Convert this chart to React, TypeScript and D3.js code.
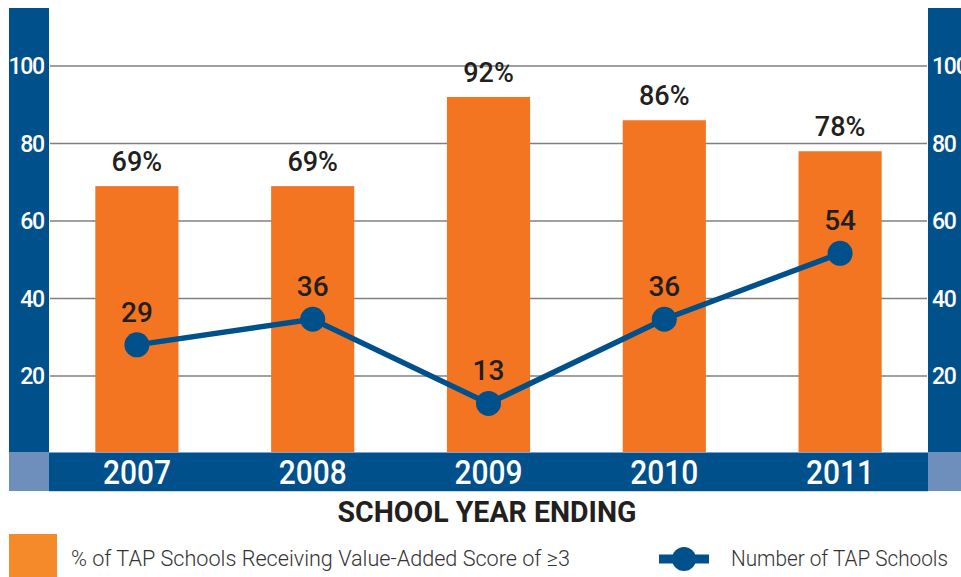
import React from "react";
import * as d3 from "d3";

const years = ["2007", "2008", "2009", "2010", "2011"];
const pctValues = [69, 69, 92, 86, 78];
const schoolCounts = [29, 36, 13, 36, 54];
const tickValues = [20, 40, 60, 80, 100];

const W = 961;
const H = 577;
const BLUE = "#00508C";
const LIGHT = "#6E8FBC";
const ORANGE = "#F47521";
const DARK = "#231F20";

export default function App() {
  const plotLeft = 49;
  const plotRight = 928;
  const bandTop = 8;
  const baseY = 452;
  const bandBottom = 491;

  const x = d3
    .scaleBand<string>()
    .domain(years)
    .range([plotLeft, plotRight])
    .paddingInner(0.527)
    .paddingOuter(0.2635);
  const y = d3.scaleLinear().domain([0, 100]).range([453.5, 66]);
  const yLine = d3.scaleLinear().domain([0, 100]).range([451, 85]);

  const cx = (yr: string) => (x(yr) as number) + x.bandwidth() / 2;

  const lineGen = d3
    .line<number>()
    .x((_, i) => cx(years[i]))
    .y((d) => yLine(d));

  const font = "Roboto, 'DejaVu Sans', sans-serif";

  return (
    <svg
      width={W}
      height={H}
      style={{ position: "absolute", left: 0, top: 0, background: "#fff" }}
      fontFamily={font}
    >
      {/* gridlines */}
      {tickValues.map((t) => (
        <line
          key={"g" + t}
          x1={plotLeft + 1}
          x2={plotRight - 1}
          y1={y(t)}
          y2={y(t)}
          stroke="#808080"
          strokeWidth={1.5}
        />
      ))}
      {/* bars */}
      {years.map((yr, i) => (
        <rect
          key={"b" + yr}
          x={x(yr)}
          y={y(pctValues[i])}
          width={x.bandwidth()}
          height={baseY - y(pctValues[i])}
          fill={ORANGE}
        />
      ))}
      {/* bar labels */}
      {years.map((yr, i) => (
        <text
          key={"bl" + yr}
          x={cx(yr)}
          y={y(pctValues[i]) - 15}
          textAnchor="middle"
          fontSize={27}
          fontWeight={500}
          fill={DARK}
        >
          {pctValues[i]}%
        </text>
      ))}
      {/* side bands */}
      <rect x={9} y={bandTop} width={plotLeft - 9} height={baseY - bandTop} fill={BLUE} />
      <rect x={plotRight} y={bandTop} width={W - plotRight} height={baseY - bandTop} fill={BLUE} />
      {/* bottom band */}
      <rect x={plotLeft} y={baseY} width={plotRight - plotLeft} height={bandBottom - baseY} fill={BLUE} />
      <rect x={9} y={baseY} width={plotLeft - 9} height={bandBottom - baseY} fill={LIGHT} />
      <rect x={plotRight} y={baseY} width={W - plotRight} height={bandBottom - baseY} fill={LIGHT} />
      <line x1={plotLeft} x2={plotRight} y1={baseY + 0.5} y2={baseY + 0.5} stroke="#7FA3CC" strokeWidth={1} />
      <line x1={plotLeft} x2={plotRight} y1={bandBottom + 0.5} y2={bandBottom + 0.5} stroke="#C9D8EA" strokeWidth={1} />
      {/* tick labels */}
      {tickValues.map((t) => (
        <text
          key={"tl" + t}
          x={44}
          y={y(t)}
          dy="0.36em"
          textAnchor="end"
          fontSize={23}
          fontWeight={500}
          letterSpacing={-1.2}
          fill="#fff"
        >
          {t}
        </text>
      ))}
      {tickValues.map((t) => (
        <text
          key={"tr" + t}
          x={932}
          y={y(t)}
          dy="0.36em"
          textAnchor="start"
          fontSize={23}
          fontWeight={500}
          letterSpacing={-1.2}
          fill="#fff"
        >
          {t}
        </text>
      ))}
      {/* year labels */}
      {years.map((yr) => (
        <text
          key={"y" + yr}
          x={cx(yr)}
          y={484}
          textAnchor="middle"
          fontSize={34}
          fontWeight={500}
          fill="#fff"
          textLength={68}
          lengthAdjust="spacingAndGlyphs"
        >
          {yr}
        </text>
      ))}
      {/* line */}
      <path d={lineGen(schoolCounts) || ""} fill="none" stroke={BLUE} strokeWidth={5.5} />
      {schoolCounts.map((v, i) => (
        <circle key={"c" + i} cx={cx(years[i])} cy={yLine(v)} r={12.5} fill={BLUE} />
      ))}
      {schoolCounts.map((v, i) => (
        <text
          key={"cl" + i}
          x={cx(years[i])}
          y={yLine(v) - 23}
          textAnchor="middle"
          fontSize={28}
          fontWeight={500}
          fill={DARK}
        >
          {v}
        </text>
      ))}
      {/* axis title */}
      <text
        x={487}
        y={522}
        textAnchor="middle"
        fontSize={30}
        fontWeight={700}
        fill={DARK}
        textLength={299}
        lengthAdjust="spacingAndGlyphs"
      >
        SCHOOL YEAR ENDING
      </text>
      {/* legend */}
      <rect x={9} y={534} width={48} height={43} fill="#F58A2A" />
      <text
        x={71}
        y={566}
        fontSize={22}
        fontWeight={300}
        fill="#333"
        textLength={499}
        lengthAdjust="spacingAndGlyphs"
      >
        % of TAP Schools Receiving Value-Added Score of ≥3
      </text>
      <line x1={659} x2={709} y1={559} y2={559} stroke={BLUE} strokeWidth={9} />
      <circle cx={684} cy={559} r={12} fill={BLUE} />
      <text
        x={731}
        y={566}
        fontSize={22}
        fontWeight={300}
        fill="#333"
        textLength={217}
        lengthAdjust="spacingAndGlyphs"
      >
        Number of TAP Schools
      </text>
    </svg>
  );
}
